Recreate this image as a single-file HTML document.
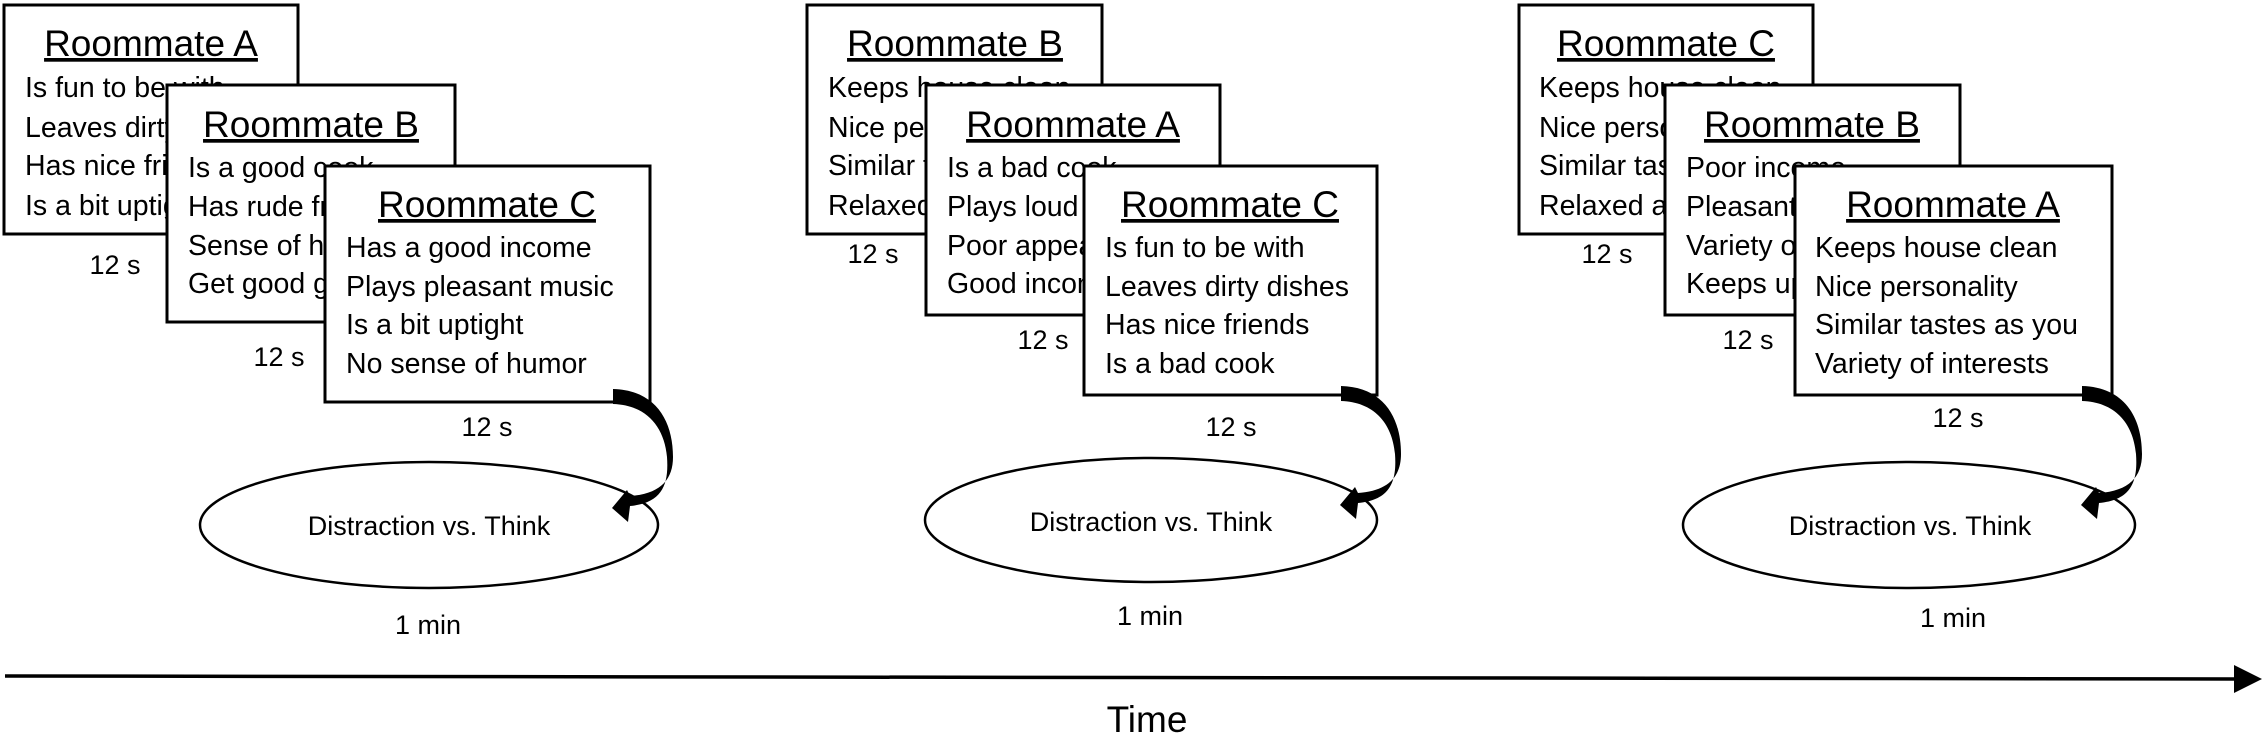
<!DOCTYPE html>
<html><head><meta charset="utf-8"><style>
html,body{margin:0;padding:0;background:#fff;}
svg{display:block;}
text{font-family:"Liberation Sans",sans-serif;fill:#000;}
.t{font-size:37px;text-decoration:underline;text-anchor:middle;}
.b{font-size:28.5px;}
.s{font-size:27px;text-anchor:middle;}
.e{font-size:27px;text-anchor:middle;}
rect{fill:#fff;stroke:#000;stroke-width:3;}
ellipse{fill:#fff;stroke:#000;stroke-width:2.5;}
</style></head><body>
<svg width="2267" height="739" viewBox="0 0 2267 739" xmlns="http://www.w3.org/2000/svg">
<defs>
<path id="arr" d="M613,389 C655,390 673,420 673,457 C673,480 660,494 630,496 L627,490 L612,508 L628,522 L630,506 C662,503 669,485 667,457 C664,425 645,405 613,404 Z" fill="#000"/>
</defs>

<!-- Group 1 -->
<rect x="4" y="5" width="294" height="229"/>
<text class="t" x="151" y="56">Roommate A</text>
<text class="b" x="25" y="97">Is fun to be with</text>
<text class="b" x="25" y="137">Leaves dirty dishes</text>
<text class="b" x="25" y="175">Has nice friends</text>
<text class="b" x="25" y="215">Is a bit uptight</text>
<text class="s" x="115" y="274">12 s</text>

<rect x="167" y="85" width="288" height="237"/>
<text class="t" x="311" y="137">Roommate B</text>
<text class="b" x="188" y="177">Is a good cook</text>
<text class="b" x="188" y="216">Has rude friends</text>
<text class="b" x="188" y="255">Sense of humor</text>
<text class="b" x="188" y="293">Get good grades</text>
<text class="s" x="279" y="366">12 s</text>

<rect x="325" y="166" width="325" height="236"/>
<text class="t" x="487" y="217">Roommate C</text>
<text class="b" x="346" y="257">Has a good income</text>
<text class="b" x="346" y="296">Plays pleasant music</text>
<text class="b" x="346" y="334">Is a bit uptight</text>
<text class="b" x="346" y="373">No sense of humor</text>
<text class="s" x="487" y="436">12 s</text>

<ellipse cx="429" cy="525" rx="229" ry="63"/>
<text class="e" x="429" y="535">Distraction vs. Think</text>
<text class="s" x="428" y="634">1 min</text>
<use href="#arr"/>

<!-- Group 2 -->
<rect x="807" y="5" width="295" height="229"/>
<text class="t" x="955" y="56">Roommate B</text>
<text class="b" x="828" y="97">Keeps house clean</text>
<text class="b" x="828" y="137">Nice personality</text>
<text class="b" x="828" y="175">Similar tastes as you</text>
<text class="b" x="828" y="215">Relaxed and easy</text>
<text class="s" x="873" y="263">12 s</text>

<rect x="926" y="85" width="294" height="230"/>
<text class="t" x="1073" y="137">Roommate A</text>
<text class="b" x="947" y="177">Is a bad cook</text>
<text class="b" x="947" y="216">Plays loud music</text>
<text class="b" x="947" y="255">Poor appearance</text>
<text class="b" x="947" y="293">Good income</text>
<text class="s" x="1043" y="349">12 s</text>

<rect x="1084" y="166" width="293" height="229"/>
<text class="t" x="1230" y="217">Roommate C</text>
<text class="b" x="1105" y="257">Is fun to be with</text>
<text class="b" x="1105" y="296">Leaves dirty dishes</text>
<text class="b" x="1105" y="334">Has nice friends</text>
<text class="b" x="1105" y="373">Is a bad cook</text>
<text class="s" x="1231" y="436">12 s</text>

<ellipse cx="1151" cy="520" rx="226" ry="62"/>
<text class="e" x="1151" y="531">Distraction vs. Think</text>
<text class="s" x="1150" y="625">1 min</text>
<use href="#arr" transform="translate(728,-3)"/>

<!-- Group 3 -->
<rect x="1519" y="5" width="294" height="229"/>
<text class="t" x="1666" y="56">Roommate C</text>
<text class="b" x="1539" y="97">Keeps house clean</text>
<text class="b" x="1539" y="137">Nice personality</text>
<text class="b" x="1539" y="175">Similar tastes as you</text>
<text class="b" x="1539" y="215">Relaxed and easy</text>
<text class="s" x="1607" y="263">12 s</text>

<rect x="1665" y="85" width="295" height="230"/>
<text class="t" x="1812" y="137">Roommate B</text>
<text class="b" x="1686" y="177">Poor income</text>
<text class="b" x="1686" y="216">Pleasant music</text>
<text class="b" x="1686" y="255">Variety of interests</text>
<text class="b" x="1686" y="293">Keeps up grades</text>
<text class="s" x="1748" y="349">12 s</text>

<rect x="1795" y="166" width="317" height="229"/>
<text class="t" x="1953" y="217">Roommate A</text>
<text class="b" x="1815" y="257">Keeps house clean</text>
<text class="b" x="1815" y="296">Nice personality</text>
<text class="b" x="1815" y="334">Similar tastes as you</text>
<text class="b" x="1815" y="373">Variety of interests</text>
<text class="s" x="1958" y="427">12 s</text>

<ellipse cx="1909" cy="525" rx="226" ry="63"/>
<text class="e" x="1910" y="535">Distraction vs. Think</text>
<text class="s" x="1953" y="627">1 min</text>
<use href="#arr" transform="translate(1469,-3)"/>

<!-- Timeline -->
<line x1="5" y1="676" x2="2240" y2="679" stroke="#000" stroke-width="3.5"/>
<polygon points="2234,665 2262,679 2234,693" fill="#000"/>
<text x="1147" y="732" style="font-size:37px;text-anchor:middle;">Time</text>
</svg>
</body></html>
